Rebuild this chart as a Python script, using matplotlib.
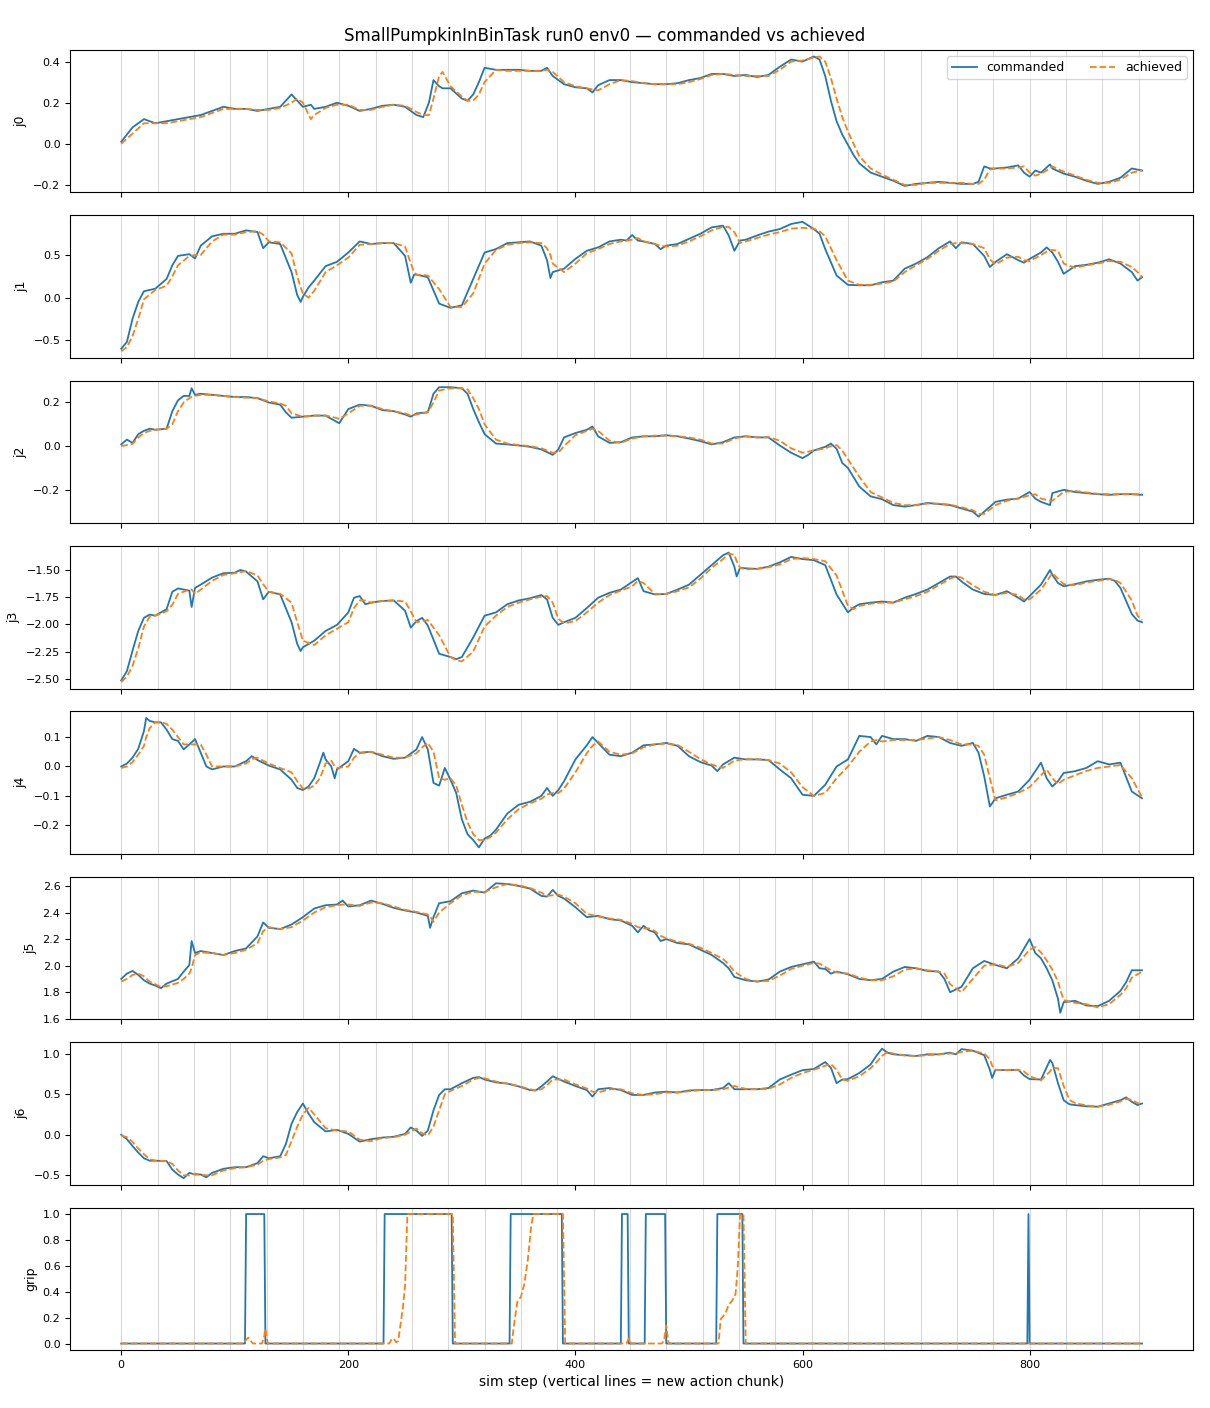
import numpy as np
import matplotlib
matplotlib.use("Agg")
import matplotlib.pyplot as plt

TITLE = "SmallPumpkinInBinTask run0 env0 \u2014 commanded vs achieved"
XLABEL = "sim step (vertical lines = new action chunk)"
N_STEPS = 900
CHUNK = 32

J0_T = [0,10,20,30,40,50,60,70,80,90,
 100,110,120,130,140,150,155,160,167,170,
 180,190,200,210,220,230,240,250,260,266,
 271,275,280,283,290,300,305,310,315,320,
 330,340,350,360,370,375,380,390,400,410,
 415,420,430,440,450,460,470,480,490,500,
 510,520,530,540,550,560,570,580,590,600,
 610,615,620,625,630,635,640,645,650,660,
 670,680,690,700,710,720,730,740,750,755,
 760,765,770,780,790,795,800,805,810,818,
 820,830,840,850,860,870,880,890,899]
J0_CMD = [0.01,0.08,0.12,0.10,0.11,0.12,0.13,0.14,0.16,0.18,
 0.17,0.17,0.16,0.17,0.18,0.24,0.21,0.18,0.19,0.17,
 0.18,0.20,0.185,0.16,0.17,0.185,0.19,0.18,0.14,0.13,
 0.20,0.31,0.28,0.27,0.27,0.22,0.21,0.24,0.30,0.37,
 0.36,0.36,0.36,0.355,0.355,0.37,0.33,0.29,0.275,0.27,
 0.25,0.285,0.31,0.31,0.30,0.295,0.29,0.29,0.295,0.31,
 0.32,0.34,0.34,0.33,0.335,0.325,0.335,0.375,0.41,0.40,
 0.425,0.41,0.33,0.21,0.11,0.045,-0.005,-0.055,-0.095,-0.14,
 -0.16,-0.18,-0.205,-0.195,-0.19,-0.185,-0.19,-0.195,-0.195,-0.185,
 -0.11,-0.12,-0.12,-0.115,-0.105,-0.14,-0.16,-0.13,-0.14,-0.10,
 -0.12,-0.145,-0.16,-0.18,-0.195,-0.185,-0.165,-0.12,-0.13]
J0_ACH = [0.00,0.05,0.10,0.10,0.10,0.11,0.12,0.13,0.15,0.17,
 0.17,0.17,0.165,0.165,0.175,0.20,0.22,0.20,0.12,0.14,
 0.175,0.19,0.19,0.165,0.165,0.18,0.19,0.185,0.155,0.14,
 0.14,0.22,0.33,0.35,0.28,0.23,0.21,0.21,0.24,0.30,
 0.36,0.355,0.355,0.355,0.355,0.36,0.35,0.30,0.28,0.27,
 0.265,0.26,0.29,0.31,0.305,0.295,0.29,0.29,0.29,0.30,
 0.315,0.335,0.34,0.335,0.33,0.33,0.33,0.36,0.40,0.405,
 0.42,0.425,0.40,0.32,0.22,0.13,0.06,0.0,-0.06,-0.12,
 -0.15,-0.175,-0.20,-0.20,-0.19,-0.19,-0.19,-0.19,-0.195,-0.195,
 -0.175,-0.125,-0.12,-0.12,-0.115,-0.11,-0.14,-0.155,-0.145,-0.12,
 -0.11,-0.135,-0.155,-0.175,-0.19,-0.19,-0.175,-0.14,-0.13]

J1_T = [0,5,10,15,20,30,40,45,50,60,
 65,70,80,90,100,110,120,125,130,140,
 150,155,158,160,165,170,180,190,200,210,
 220,230,240,250,255,258,260,270,280,290,
 300,310,320,330,340,350,360,370,375,378,
 380,390,400,410,420,430,440,445,450,455,
 460,470,475,480,490,500,510,520,530,535,
 540,545,550,560,570,580,590,600,610,615,
 620,630,640,650,660,670,680,690,700,710,
 720,730,735,740,750,760,765,770,780,790,
 795,800,810,815,820,825,830,840,850,860,
 870,880,890,895,899]
J1_CMD = [-0.60,-0.52,-0.245,-0.05,0.075,0.105,0.22,0.38,0.49,0.51,
 0.46,0.61,0.72,0.75,0.75,0.79,0.77,0.58,0.65,0.63,
 0.30,0.03,-0.05,0.01,0.12,0.20,0.37,0.42,0.53,0.66,
 0.63,0.64,0.64,0.49,0.175,0.27,0.27,0.24,-0.07,-0.12,
 -0.09,0.22,0.53,0.57,0.64,0.65,0.66,0.61,0.44,0.23,
 0.30,0.34,0.455,0.55,0.59,0.66,0.68,0.67,0.735,0.67,
 0.66,0.63,0.57,0.61,0.63,0.69,0.75,0.825,0.845,0.73,
 0.55,0.67,0.68,0.73,0.775,0.805,0.865,0.89,0.805,0.75,
 0.57,0.26,0.15,0.145,0.145,0.18,0.20,0.34,0.40,0.475,
 0.58,0.66,0.58,0.65,0.63,0.49,0.36,0.42,0.51,0.44,
 0.41,0.455,0.53,0.59,0.53,0.42,0.28,0.37,0.385,0.41,
 0.45,0.40,0.30,0.20,0.24]
J1_ACH = [-0.63,-0.58,-0.45,-0.25,-0.02,0.09,0.14,0.25,0.38,0.49,
 0.50,0.50,0.66,0.74,0.74,0.77,0.78,0.74,0.66,0.65,
 0.52,0.25,0.12,0.05,0.0,0.08,0.30,0.38,0.47,0.62,
 0.63,0.64,0.64,0.60,0.40,0.30,0.27,0.26,0.10,-0.11,
 -0.11,0.05,0.40,0.56,0.62,0.64,0.65,0.64,0.58,0.50,
 0.40,0.30,0.40,0.52,0.57,0.63,0.66,0.67,0.68,0.70,
 0.66,0.63,0.61,0.60,0.61,0.66,0.72,0.79,0.83,0.83,
 0.77,0.64,0.66,0.70,0.74,0.77,0.81,0.82,0.81,0.78,
 0.72,0.44,0.20,0.15,0.15,0.165,0.19,0.30,0.38,0.455,
 0.55,0.63,0.64,0.64,0.63,0.58,0.45,0.39,0.47,0.48,
 0.44,0.43,0.50,0.54,0.56,0.55,0.40,0.35,0.38,0.40,
 0.43,0.42,0.36,0.30,0.24]

J2_T = [0,5,10,15,20,25,30,40,45,50,
 55,60,62,65,70,80,90,100,110,120,
 130,140,145,150,160,170,180,185,192,200,
 210,220,230,240,250,255,260,270,275,280,
 290,300,305,310,315,320,330,340,350,360,
 370,380,385,390,400,410,415,420,430,440,
 450,460,470,480,490,500,510,520,530,540,
 550,560,570,580,590,600,605,610,620,625,
 630,635,640,650,660,670,680,690,700,710,
 720,730,740,750,755,760,770,780,790,800,
 805,810,818,820,830,840,850,860,870,880,
 890,899]
J2_CMD = [0.008,0.03,0.015,0.055,0.07,0.08,0.075,0.08,0.16,0.21,
 0.23,0.23,0.265,0.235,0.24,0.235,0.23,0.225,0.225,0.22,
 0.20,0.19,0.155,0.13,0.135,0.14,0.14,0.125,0.105,0.17,
 0.19,0.185,0.165,0.16,0.145,0.135,0.15,0.155,0.24,0.27,
 0.27,0.265,0.24,0.17,0.11,0.055,0.012,0.008,0.003,-0.003,
 -0.015,-0.04,-0.015,0.04,0.06,0.075,0.09,0.045,0.015,0.018,
 0.04,0.045,0.045,0.05,0.045,0.035,0.023,0.008,0.018,0.04,
 0.045,0.04,0.04,0.003,-0.03,-0.055,-0.04,-0.02,-0.003,0.012,
 -0.012,-0.077,-0.10,-0.185,-0.23,-0.243,-0.27,-0.277,-0.27,-0.26,
 -0.265,-0.27,-0.285,-0.30,-0.323,-0.30,-0.255,-0.245,-0.24,-0.21,
 -0.24,-0.255,-0.27,-0.215,-0.20,-0.21,-0.215,-0.22,-0.223,-0.22,
 -0.22,-0.223]
J2_ACH = [0.0,0.005,0.01,0.04,0.06,0.07,0.075,0.08,0.10,0.16,
 0.20,0.22,0.225,0.23,0.235,0.235,0.23,0.225,0.222,0.22,
 0.205,0.195,0.185,0.15,0.135,0.14,0.14,0.135,0.125,0.15,
 0.185,0.185,0.17,0.16,0.15,0.14,0.145,0.155,0.20,0.255,
 0.265,0.265,0.26,0.22,0.17,0.10,0.03,0.012,0.005,0.0,
 -0.01,-0.03,-0.03,0.0,0.05,0.07,0.08,0.07,0.025,0.015,
 0.035,0.045,0.048,0.048,0.045,0.04,0.03,0.012,0.012,0.035,
 0.045,0.04,0.042,0.025,-0.01,-0.03,-0.025,-0.02,-0.01,0.0,
 0.005,-0.02,-0.06,-0.14,-0.21,-0.235,-0.26,-0.27,-0.27,-0.263,
 -0.263,-0.268,-0.28,-0.293,-0.31,-0.31,-0.27,-0.25,-0.24,-0.225,
 -0.22,-0.24,-0.25,-0.25,-0.21,-0.205,-0.212,-0.218,-0.22,-0.22,
 -0.22,-0.22]

J3_T = [0,5,10,15,20,25,30,40,45,50,
 60,62,65,70,80,90,100,105,110,120,
 125,130,140,150,155,158,160,170,180,190,
 200,205,210,215,220,230,240,250,255,260,
 265,270,280,290,295,300,310,320,330,340,
 350,360,370,375,380,385,390,400,410,420,
 430,440,450,455,460,470,480,490,500,510,
 520,530,535,540,542,545,550,560,570,580,
 590,600,610,620,630,640,645,650,660,670,
 680,690,700,710,720,730,735,740,750,760,
 770,780,790,795,800,810,818,820,825,830,
 840,850,860,870,875,880,890,895,899]
J3_CMD = [-2.515,-2.43,-2.24,-2.06,-1.94,-1.91,-1.92,-1.86,-1.70,-1.67,
 -1.69,-1.84,-1.665,-1.635,-1.57,-1.53,-1.525,-1.50,-1.515,-1.605,
 -1.77,-1.70,-1.725,-1.98,-2.18,-2.245,-2.21,-2.15,-2.06,-2.005,
 -1.89,-1.755,-1.74,-1.815,-1.80,-1.785,-1.78,-1.875,-2.03,-1.97,
 -1.94,-2.01,-2.27,-2.30,-2.32,-2.30,-2.12,-1.92,-1.89,-1.815,
 -1.78,-1.76,-1.73,-1.77,-1.94,-2.005,-1.98,-1.94,-1.85,-1.755,
 -1.71,-1.68,-1.61,-1.575,-1.695,-1.725,-1.72,-1.68,-1.635,-1.545,
 -1.455,-1.365,-1.34,-1.47,-1.56,-1.48,-1.485,-1.49,-1.47,-1.43,
 -1.38,-1.40,-1.41,-1.455,-1.725,-1.89,-1.845,-1.815,-1.80,-1.79,
 -1.80,-1.755,-1.72,-1.68,-1.62,-1.56,-1.56,-1.605,-1.68,-1.72,
 -1.73,-1.695,-1.755,-1.79,-1.74,-1.635,-1.50,-1.545,-1.62,-1.65,
 -1.63,-1.605,-1.59,-1.58,-1.60,-1.665,-1.905,-1.965,-1.98]
J3_ACH = [-2.53,-2.48,-2.38,-2.22,-2.02,-1.93,-1.92,-1.88,-1.82,-1.72,
 -1.68,-1.68,-1.72,-1.68,-1.60,-1.545,-1.53,-1.52,-1.51,-1.55,
 -1.63,-1.70,-1.72,-1.80,-1.98,-2.08,-2.15,-2.19,-2.10,-2.04,
 -1.98,-1.85,-1.78,-1.78,-1.80,-1.785,-1.78,-1.79,-1.88,-1.98,
 -1.97,-1.96,-2.10,-2.30,-2.33,-2.34,-2.25,-2.02,-1.92,-1.84,
 -1.80,-1.77,-1.745,-1.74,-1.80,-1.95,-1.99,-1.97,-1.89,-1.80,
 -1.73,-1.69,-1.65,-1.60,-1.62,-1.72,-1.72,-1.695,-1.66,-1.58,
 -1.48,-1.40,-1.35,-1.36,-1.42,-1.48,-1.495,-1.49,-1.475,-1.45,
 -1.40,-1.39,-1.40,-1.42,-1.55,-1.83,-1.86,-1.83,-1.81,-1.80,
 -1.80,-1.77,-1.74,-1.70,-1.64,-1.58,-1.56,-1.57,-1.64,-1.70,
 -1.73,-1.71,-1.73,-1.77,-1.77,-1.68,-1.56,-1.53,-1.58,-1.63,
 -1.64,-1.615,-1.60,-1.585,-1.59,-1.62,-1.78,-1.92,-1.96]

J4_T = [0,5,10,15,20,22,25,30,35,40,
 45,50,55,60,65,70,75,80,90,100,
 110,115,120,130,140,150,155,160,165,170,
 175,178,180,185,188,190,200,205,210,220,
 230,240,250,260,265,270,275,280,285,290,
 295,300,305,310,315,320,325,330,340,350,
 360,370,375,380,385,390,400,410,415,420,
 430,440,450,460,470,480,490,500,510,520,
 525,530,540,550,560,570,580,590,600,610,
 620,630,640,650,660,665,670,680,690,700,
 710,720,730,740,750,755,760,765,770,780,
 790,800,810,815,820,825,830,840,850,860,
 870,880,890,899]
J4_CMD = [0.0,0.01,0.03,0.06,0.12,0.165,0.155,0.15,0.15,0.125,
 0.093,0.087,0.058,0.075,0.093,0.047,0.0,-0.01,0.0,0.0,
 0.018,0.035,0.022,0.003,-0.01,-0.045,-0.073,-0.08,-0.068,-0.04,
 0.013,0.047,0.024,0.0,-0.04,-0.01,0.018,0.06,0.047,0.05,
 0.035,0.026,0.03,0.058,0.10,0.058,-0.056,-0.065,-0.005,-0.045,
 -0.09,-0.18,-0.23,-0.25,-0.275,-0.245,-0.235,-0.215,-0.16,-0.13,
 -0.12,-0.10,-0.073,-0.10,-0.08,-0.05,0.024,0.072,0.10,0.08,
 0.04,0.035,0.047,0.072,0.075,0.08,0.07,0.035,0.015,0.003,
 -0.016,0.007,0.03,0.024,0.024,0.022,-0.01,-0.04,-0.096,-0.10,
 -0.062,0.0,0.024,0.104,0.10,0.075,0.104,0.093,0.093,0.087,
 0.104,0.10,0.08,0.07,0.08,0.047,-0.033,-0.136,-0.108,-0.096,
 -0.085,-0.045,0.013,-0.04,-0.068,-0.05,-0.022,-0.016,-0.005,0.018,
 0.007,0.013,-0.085,-0.108]
J4_ACH = [-0.005,0.0,0.015,0.04,0.07,0.10,0.13,0.15,0.15,0.145,
 0.125,0.10,0.075,0.075,0.075,0.075,0.04,0.0,0.0,0.0,
 0.01,0.025,0.03,0.01,-0.005,-0.02,-0.05,-0.075,-0.075,-0.065,
 -0.04,-0.01,0.01,0.02,0.0,-0.005,0.0,0.03,0.045,0.05,
 0.04,0.03,0.03,0.045,0.065,0.08,0.05,-0.04,-0.045,-0.04,
 -0.065,-0.13,-0.19,-0.23,-0.25,-0.25,-0.24,-0.225,-0.18,-0.145,
 -0.125,-0.11,-0.095,-0.09,-0.09,-0.075,-0.02,0.045,0.07,0.085,
 0.05,0.04,0.045,0.065,0.075,0.078,0.073,0.05,0.025,0.007,
 0.0,-0.005,0.02,0.025,0.025,0.022,0.01,-0.02,-0.07,-0.10,
 -0.09,-0.04,0.0,0.05,0.085,0.09,0.085,0.09,0.09,0.09,
 0.095,0.10,0.09,0.075,0.075,0.07,0.04,-0.04,-0.115,-0.105,
 -0.09,-0.07,-0.03,-0.01,-0.04,-0.06,-0.045,-0.03,-0.015,-0.005,
 0.0,0.005,-0.04,-0.105]

J5_T = [0,5,10,15,20,25,30,35,40,50,
 55,60,62,65,70,80,90,100,110,120,
 125,130,140,150,160,170,180,190,195,200,
 210,220,230,240,250,260,270,272,275,280,
 290,300,310,320,330,340,350,360,370,375,
 380,385,390,400,410,420,430,440,450,455,
 460,465,470,475,480,490,500,510,520,530,
 535,540,550,560,570,580,590,600,610,615,
 620,625,630,640,650,660,670,680,690,700,
 710,720,725,730,740,750,760,770,780,790,
 800,805,810,815,820,825,827,830,840,850,
 860,870,880,885,890,899]
J5_CMD = [1.90,1.94,1.96,1.93,1.89,1.865,1.85,1.83,1.865,1.90,
 1.955,2.005,2.185,2.095,2.11,2.095,2.08,2.11,2.13,2.22,
 2.325,2.285,2.275,2.31,2.365,2.43,2.455,2.46,2.49,2.445,
 2.455,2.49,2.465,2.435,2.415,2.40,2.375,2.285,2.365,2.47,
 2.485,2.545,2.565,2.55,2.62,2.615,2.60,2.58,2.525,2.52,
 2.57,2.525,2.505,2.44,2.365,2.375,2.35,2.34,2.30,2.25,
 2.30,2.265,2.25,2.185,2.20,2.17,2.16,2.12,2.08,2.02,
 1.98,1.915,1.89,1.88,1.895,1.955,1.99,2.01,2.03,1.98,
 1.975,1.94,1.955,1.935,1.90,1.89,1.90,1.955,1.99,1.98,
 1.96,1.955,1.90,1.80,1.84,1.98,2.035,2.005,1.98,2.055,
 2.20,2.095,2.055,1.98,1.89,1.75,1.645,1.725,1.735,1.70,
 1.695,1.735,1.81,1.875,1.965,1.965]
J5_ACH = [1.88,1.90,1.93,1.94,1.92,1.88,1.86,1.84,1.845,1.87,
 1.90,1.94,1.98,2.08,2.10,2.095,2.08,2.095,2.12,2.17,
 2.26,2.29,2.275,2.29,2.34,2.40,2.44,2.455,2.46,2.46,
 2.45,2.475,2.47,2.445,2.42,2.405,2.385,2.37,2.33,2.40,
 2.47,2.53,2.555,2.555,2.59,2.615,2.605,2.585,2.55,2.525,
 2.53,2.535,2.52,2.47,2.39,2.37,2.355,2.345,2.315,2.29,
 2.28,2.28,2.26,2.225,2.205,2.18,2.165,2.135,2.095,2.05,
 2.01,1.955,1.90,1.88,1.885,1.925,1.975,2.00,2.02,2.015,
 1.99,1.965,1.95,1.94,1.91,1.89,1.89,1.92,1.97,1.98,
 1.965,1.955,1.94,1.86,1.80,1.90,2.00,2.01,1.99,2.02,
 2.12,2.14,2.10,2.04,1.97,1.88,1.82,1.74,1.72,1.71,
 1.685,1.71,1.78,1.83,1.91,1.955]

J6_T = [0,5,10,15,20,25,30,40,45,50,
 55,60,65,70,75,80,90,100,110,120,
 125,130,140,145,150,155,160,165,170,180,
 190,200,210,220,230,240,250,255,260,265,
 270,275,280,285,290,300,310,315,320,330,
 340,350,360,365,370,375,380,390,400,410,
 415,420,430,440,450,460,470,480,490,500,
 510,520,530,535,540,550,560,570,580,590,
 600,610,620,625,630,635,640,650,660,665,
 670,675,680,690,700,710,720,730,735,740,
 750,760,765,767,770,780,790,795,800,810,
 818,820,825,830,835,840,850,860,870,880,
 885,890,895,899]
J6_CMD = [0.0,-0.055,-0.14,-0.22,-0.29,-0.32,-0.32,-0.325,-0.43,-0.49,
 -0.535,-0.47,-0.49,-0.49,-0.525,-0.47,-0.42,-0.40,-0.40,-0.35,
 -0.265,-0.29,-0.265,-0.115,0.135,0.28,0.385,0.26,0.155,0.04,
 0.06,0.01,-0.085,-0.055,-0.035,-0.025,0.01,0.09,0.05,-0.015,
 0.05,0.30,0.49,0.56,0.56,0.635,0.70,0.71,0.68,0.645,
 0.63,0.595,0.55,0.545,0.595,0.655,0.72,0.655,0.60,0.55,
 0.47,0.56,0.575,0.55,0.49,0.49,0.52,0.53,0.52,0.545,
 0.55,0.55,0.575,0.635,0.56,0.56,0.56,0.575,0.68,0.74,
 0.795,0.81,0.895,0.825,0.635,0.68,0.685,0.76,0.865,0.97,
 1.06,1.01,0.99,0.98,0.97,0.99,0.99,1.01,0.99,1.055,
 1.035,0.98,0.80,0.70,0.80,0.795,0.80,0.73,0.685,0.68,
 0.92,0.885,0.635,0.425,0.375,0.365,0.35,0.345,0.385,0.425,
 0.46,0.405,0.365,0.385]
J6_ACH = [-0.01,-0.03,-0.09,-0.17,-0.24,-0.30,-0.32,-0.325,-0.36,-0.44,
 -0.50,-0.50,-0.48,-0.49,-0.50,-0.50,-0.44,-0.41,-0.40,-0.37,
 -0.32,-0.30,-0.28,-0.25,-0.08,0.10,0.25,0.33,0.25,0.08,
 0.05,0.04,-0.06,-0.08,-0.04,-0.03,0.0,0.04,0.075,0.02,
 -0.01,0.10,0.30,0.50,0.54,0.60,0.68,0.70,0.695,0.655,
 0.63,0.60,0.56,0.545,0.56,0.61,0.68,0.68,0.62,0.57,
 0.53,0.52,0.56,0.56,0.51,0.49,0.50,0.52,0.52,0.535,
 0.55,0.55,0.56,0.58,0.60,0.565,0.56,0.565,0.62,0.70,
 0.76,0.80,0.85,0.87,0.80,0.68,0.665,0.72,0.82,0.89,
 0.97,1.02,1.00,0.975,0.97,0.98,0.99,1.0,1.0,1.02,
 1.035,1.0,0.93,0.85,0.80,0.795,0.80,0.78,0.72,0.67,
 0.78,0.82,0.82,0.60,0.43,0.39,0.36,0.345,0.37,0.41,
 0.44,0.43,0.39,0.375]

# gripper: commanded open/close intervals (step on, step off)
GRIP_ON = [110, 232, 343, 441, 462, 525, 799]
GRIP_OFF = [127, 292, 389, 447, 480, 548, 800]
GRIP_ACH_T = [0,108,110,112,114,116,124,126,127,129,
 236,238,240,242,244,246,248,250,252,292,
 294,344,346,349,352,355,358,361,363,389,
 391,445,447,449,476,478,480,482,526,528,
 532,535,538,541,543,545,548,550,899]
GRIP_ACH_V = [0,0,0.03,0.045,0.02,0,0,0.06,0.115,0,
 0,0.03,0.04,0.01,0.02,0.15,0.27,0.45,1.0,1.0,
 0,0,0.15,0.33,0.36,0.46,0.64,0.9,1.0,1.0,
 0,0,0.04,0,0,0.02,0.14,0,0,0.19,
 0.23,0.30,0.33,0.38,0.59,1.0,1.0,0,0]

JOINTS = [
    ("j0", J0_T, J0_CMD, J0_ACH),
    ("j1", J1_T, J1_CMD, J1_ACH),
    ("j2", J2_T, J2_CMD, J2_ACH),
    ("j3", J3_T, J3_CMD, J3_ACH),
    ("j4", J4_T, J4_CMD, J4_ACH),
    ("j5", J5_T, J5_CMD, J5_ACH),
    ("j6", J6_T, J6_CMD, J6_ACH),
]
for name, t, c, a in JOINTS:
    assert len(t) == len(c) == len(a), (name, len(t), len(c), len(a))
assert len(GRIP_ACH_T) == len(GRIP_ACH_V)

steps = np.arange(N_STEPS)
grip_cmd = np.zeros(N_STEPS)
for on, off in zip(GRIP_ON, GRIP_OFF):
    grip_cmd[on:off] = 1.0

fig, axes = plt.subplots(8, 1, figsize=(12.1, 14.08), dpi=100, sharex=True)
fig.subplots_adjust(left=0.058, right=0.986, top=0.9645, bottom=0.0412, hspace=0.161)

chunk_starts = list(range(0, N_STEPS, CHUNK))

for ax, (name, t, c, a) in zip(axes[:7], JOINTS):
    for x in chunk_starts:
        ax.axvline(x, color="0.5", alpha=0.3, lw=0.8, zorder=0)
    ax.plot(t, c, color="C0", lw=1.3, label="commanded")
    ax.plot(t, a, color="C1", lw=1.3, ls="--", label="achieved")
    ax.set_ylabel(name, fontsize=9)
    ax.tick_params(labelsize=8)

axg = axes[7]
for x in chunk_starts:
    axg.axvline(x, color="0.5", alpha=0.3, lw=0.8, zorder=0)
axg.plot(steps, grip_cmd, color="C0", lw=1.3, label="commanded")
axg.plot(GRIP_ACH_T, GRIP_ACH_V, color="C1", lw=1.3, ls="--", label="achieved")
axg.set_ylabel("grip", fontsize=9)
axg.tick_params(labelsize=8)
axg.set_xlabel(XLABEL, fontsize=10)

axes[0].legend(loc="upper right", ncol=2, fontsize=9)
fig.suptitle(TITLE, fontsize=12, y=0.9745, va="center")

fig.savefig("out.png", dpi=100)
